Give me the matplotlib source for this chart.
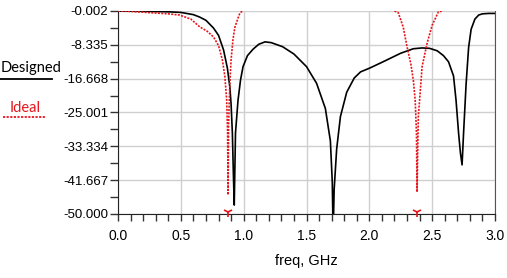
import numpy as np
import matplotlib
matplotlib.use('Agg')
import matplotlib.pyplot as plt
from matplotlib.ticker import MultipleLocator, FixedLocator

# curva diseñada (negra)
f_designed = [0.0, 0.2, 0.4, 0.5, 0.6, 0.65, 0.7, 0.76, 0.8, 0.84, 0.87, 0.89,
              0.90, 0.91, 0.918, 0.925, 0.935, 0.955, 0.975, 0.995, 1.03, 1.075,
              1.12, 1.17, 1.22, 1.31, 1.40, 1.50, 1.58, 1.65, 1.69, 1.705, 1.712,
              1.72, 1.74, 1.77, 1.82, 1.88, 1.93, 2.0, 2.11, 2.25, 2.35, 2.42,
              2.48, 2.54, 2.59, 2.63, 2.67, 2.69, 2.71, 2.725, 2.738, 2.75, 2.77,
              2.79, 2.81, 2.84, 2.87, 2.9, 2.95, 3.0]
db_designed = [-0.02, -0.08, -0.2, -0.35, -0.9, -1.5, -2.3, -4.2, -6.0, -9.6, -14.0, -18.7,
               -23.0, -30.0, -40.0, -47.8, -30.0, -22.0, -17.0, -13.7, -11.0, -9.4,
               -8.2, -7.6, -7.8, -8.8, -10.6, -13.7, -17.8, -24.0, -32.0, -42.0, -55.0,
               -44.0, -34.0, -26.0, -20.0, -16.5, -15.0, -14.1, -12.5, -10.4, -9.3, -9.1,
               -9.2, -9.8, -11.0, -12.5, -16.0, -22.0, -30.0, -35.0, -37.9, -30.0, -18.0,
               -9.0, -4.5, -2.0, -1.0, -0.7, -0.6, -0.6]

# curva ideal (roja punteada), NaN separa los tramos
f_ideal = [0.0, 0.1, 0.25, 0.4, 0.49, 0.58, 0.65, 0.71, 0.76, 0.80, 0.83, 0.85,
           0.865, 0.872, 0.876, 0.876, 0.88, 0.89, 0.90, 0.915, 0.93, 0.95, 0.97, 0.99,
           np.nan,
           2.20, 2.23, 2.27, 2.30, 2.33, 2.35, 2.365, 2.375, 2.38, 2.38, 2.385, 2.39,
           2.42, 2.46, 2.50, 2.55, 2.58]
db_ideal = [0.0, -0.1, -0.4, -0.7, -1.0, -2.0, -3.9, -5.0, -6.4, -8.5, -12.0, -16.0,
            -22.0, -30.0, -45.3, -45.3, -28.0, -17.8, -12.0, -7.0, -4.0, -2.2, -0.5, 0.0,
            np.nan,
            0.0, -0.4, -4.0, -8.8, -13.0, -17.0, -22.0, -30.0, -44.6, -44.6, -34.0, -26.0,
            -13.7, -7.9, -3.5, -0.2, 0.0]

# marcadores de ceros de transmisión
f_zeros = [0.876, 2.38]

y_ticks = [-0.002, -8.335, -16.668, -25.001, -33.334, -41.667, -50.000]
x_ticks = [0.0, 0.5, 1.0, 1.5, 2.0, 2.5, 3.0]

plt.rcParams['font.family'] = ['Liberation Sans', 'DejaVu Sans']

fig = plt.figure(figsize=(5.07, 2.78), dpi=100)
ax = fig.add_axes([118 / 507, 1 - 214 / 278, 377 / 507, 203 / 278])

ax.plot(f_designed, db_designed, color='black', lw=1.2, zorder=3)
ax.plot(f_ideal, db_ideal, color='#e8141c', lw=1.2, ls=(0, (1.2, 0.8)), zorder=4)
ax.plot(f_zeros, [-49.6] * len(f_zeros), ls='none', marker='1', ms=7, mew=1.2,
        color='#e8141c', clip_on=False, zorder=5)

ax.set_xlim(0, 3.0)
ax.set_ylim(-50, -0.002)
ax.xaxis.set_major_locator(FixedLocator(x_ticks))
ax.xaxis.set_minor_locator(MultipleLocator(0.1))
ax.yaxis.set_major_locator(FixedLocator(y_ticks))
ax.yaxis.set_minor_locator(FixedLocator([(a + b) / 2 for a, b in zip(y_ticks[:-1], y_ticks[1:])]))
ax.set_xticklabels([f'{x:.1f}' for x in x_ticks])
ax.set_yticklabels([f'{y:.3f}' for y in y_ticks])

ax.grid(True, which='major', color='#cfcfcf', lw=1.0, zorder=0)
ax.tick_params(axis='both', which='both', direction='out', color='#333333', width=1.0)
ax.tick_params(axis='y', which='both', length=6, labelsize=9.5, pad=1)
ax.tick_params(axis='x', which='both', length=5, labelsize=10, pad=6)

ax.spines['top'].set_visible(False)
ax.spines['right'].set_color('#555555')
ax.spines['left'].set_color('#222222')
ax.spines['bottom'].set_color('#222222')

ax.set_xlabel('freq, GHz', fontsize=10.5, labelpad=8)

# leyenda manual a la izquierda
fig.text(0.5 / 507, 1 - 68 / 278, 'Designed', fontsize=10.5, family='Lato',
         va='center', ha='left', color='black')
fig.add_artist(plt.Line2D([0, 52 / 507], [1 - 79 / 278] * 2, color='black', lw=1.3))
fig.text(10 / 507, 1 - 108 / 278, 'Ideal', fontsize=10.5, family='Lato',
         va='center', ha='left', color='#e8141c')
fig.add_artist(plt.Line2D([3 / 507, 46 / 507], [1 - 117 / 278] * 2, color='#e8141c',
                          lw=1.3, ls=(0, (1.2, 0.8))))

fig.savefig('out.png', dpi=100)
